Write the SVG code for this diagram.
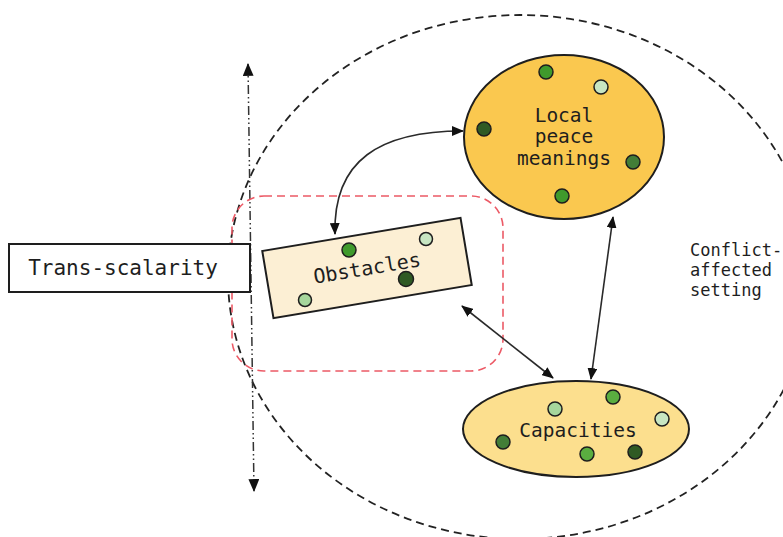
<svg xmlns="http://www.w3.org/2000/svg" width="783" height="537" viewBox="0 0 783 537">
  <defs>
    <marker id="arrow" viewBox="0 0 12 10" refX="11" refY="5" markerWidth="12" markerHeight="10" markerUnits="userSpaceOnUse" orient="auto-start-reverse">
      <path d="M0,0 L12,5 L0,10 Z" fill="#111"/>
    </marker>
    <marker id="arrow-s" viewBox="0 0 12 10" refX="11" refY="5" markerWidth="13" markerHeight="11" markerUnits="userSpaceOnUse" orient="auto-start-reverse">
      <path d="M0,0 L12,5 L0,10 Z" fill="#111"/>
    </marker>
  </defs>
  <style>
    .lbl { font-family: "DejaVu Sans Mono", "Liberation Mono", monospace; fill: #1e1e1e; }
    .node { stroke: #1e1e1e; stroke-width: 2; }
    .dot { stroke: #1e1e1e; stroke-width: 1.5; }
    .conn { fill: none; stroke: #2a2a2a; stroke-width: 1.6; }
    .g1 { fill: #3f9a2c; }
    .g2 { fill: #c8e6c2; }
    .g3 { fill: #2f5a24; }
    .g4 { fill: #437d37; }
    .g5 { fill: #a6d69c; }
    .g6 { fill: #5aae40; }
  </style>

  <rect width="783" height="537" fill="#ffffff"/>

  <!-- setting boundary -->
  <g id="setting">
    <ellipse cx="520" cy="277" rx="292" ry="262" fill="none" stroke="#222" stroke-width="1.8" stroke-dasharray="8 5"/>
    <text class="lbl" x="690" y="256" font-size="17">Conflict-</text>
    <text class="lbl" x="690" y="276" font-size="17">affected</text>
    <text class="lbl" x="690" y="296" font-size="17">setting</text>
  </g>

  <!-- scale axis -->
  <g id="scale-axis">
    <line x1="248" y1="64" x2="254" y2="491" stroke="#333" stroke-width="1.5" stroke-dasharray="9 3 1.5 3 1.5 3" marker-start="url(#arrow-s)" marker-end="url(#arrow-s)"/>
  </g>

  <!-- obstacle zone -->
  <g id="trans-zone">
    <rect x="232" y="196" width="271" height="175" rx="32" ry="32" fill="none" stroke="#ec5a66" stroke-width="1.6" stroke-dasharray="8 5"/>
  </g>

  <g id="trans-scalarity">
    <rect x="9" y="244" width="241" height="48" fill="#ffffff" class="node"/>
    <text class="lbl" x="123" y="275" font-size="21" text-anchor="middle">Trans-scalarity</text>
  </g>

  <g id="obstacles" transform="rotate(-9.5 367 268)">
    <rect x="266.5" y="234" width="201" height="68" fill="#fcefd4" class="node"/>
    <text class="lbl" x="367" y="275" font-size="20" text-anchor="middle">Obstacles</text>
  </g>
  <g id="obstacles-dots">
    <circle class="dot g1" cx="349" cy="250" r="7"/>
    <circle class="dot g2" cx="426" cy="239" r="6.5"/>
    <circle class="dot g3" cx="406" cy="279" r="7.5"/>
    <circle class="dot g5" cx="305" cy="300" r="6.5"/>
  </g>

  <g id="local-peace">
    <ellipse cx="564" cy="137" rx="100" ry="82" fill="#fac84f" class="node"/>
    <text class="lbl" x="564" y="122" font-size="19.5" text-anchor="middle">Local</text>
    <text class="lbl" x="564" y="143" font-size="19.5" text-anchor="middle">peace</text>
    <text class="lbl" x="564" y="165" font-size="19.5" text-anchor="middle">meanings</text>
    <circle class="dot g1" cx="546" cy="72" r="7"/>
    <circle class="dot g2" cx="601" cy="87" r="7"/>
    <circle class="dot g3" cx="484" cy="129" r="7"/>
    <circle class="dot g4" cx="633" cy="162" r="7"/>
    <circle class="dot g1" cx="562" cy="196" r="7"/>
  </g>

  <g id="capacities">
    <ellipse cx="576" cy="429" rx="113" ry="48" fill="#fcdf8e" class="node"/>
    <text class="lbl" x="578" y="437" font-size="19.5" text-anchor="middle">Capacities</text>
    <circle class="dot g5" cx="555" cy="409" r="7"/>
    <circle class="dot g6" cx="613" cy="397" r="7"/>
    <circle class="dot g2" cx="662" cy="419" r="7"/>
    <circle class="dot g4" cx="503" cy="442" r="7"/>
    <circle class="dot g6" cx="587" cy="454" r="7"/>
    <circle class="dot g3" cx="635" cy="452" r="7"/>
  </g>

  <!-- connectors -->
  <g id="connectors">
    <path class="conn" d="M335,234 C333,160 380,131 463,131" marker-start="url(#arrow)" marker-end="url(#arrow)"/>
    <line class="conn" x1="462" y1="306" x2="553" y2="378" marker-start="url(#arrow)" marker-end="url(#arrow)"/>
    <line class="conn" x1="613" y1="217" x2="591" y2="379" marker-start="url(#arrow)" marker-end="url(#arrow)"/>
  </g>
</svg>
